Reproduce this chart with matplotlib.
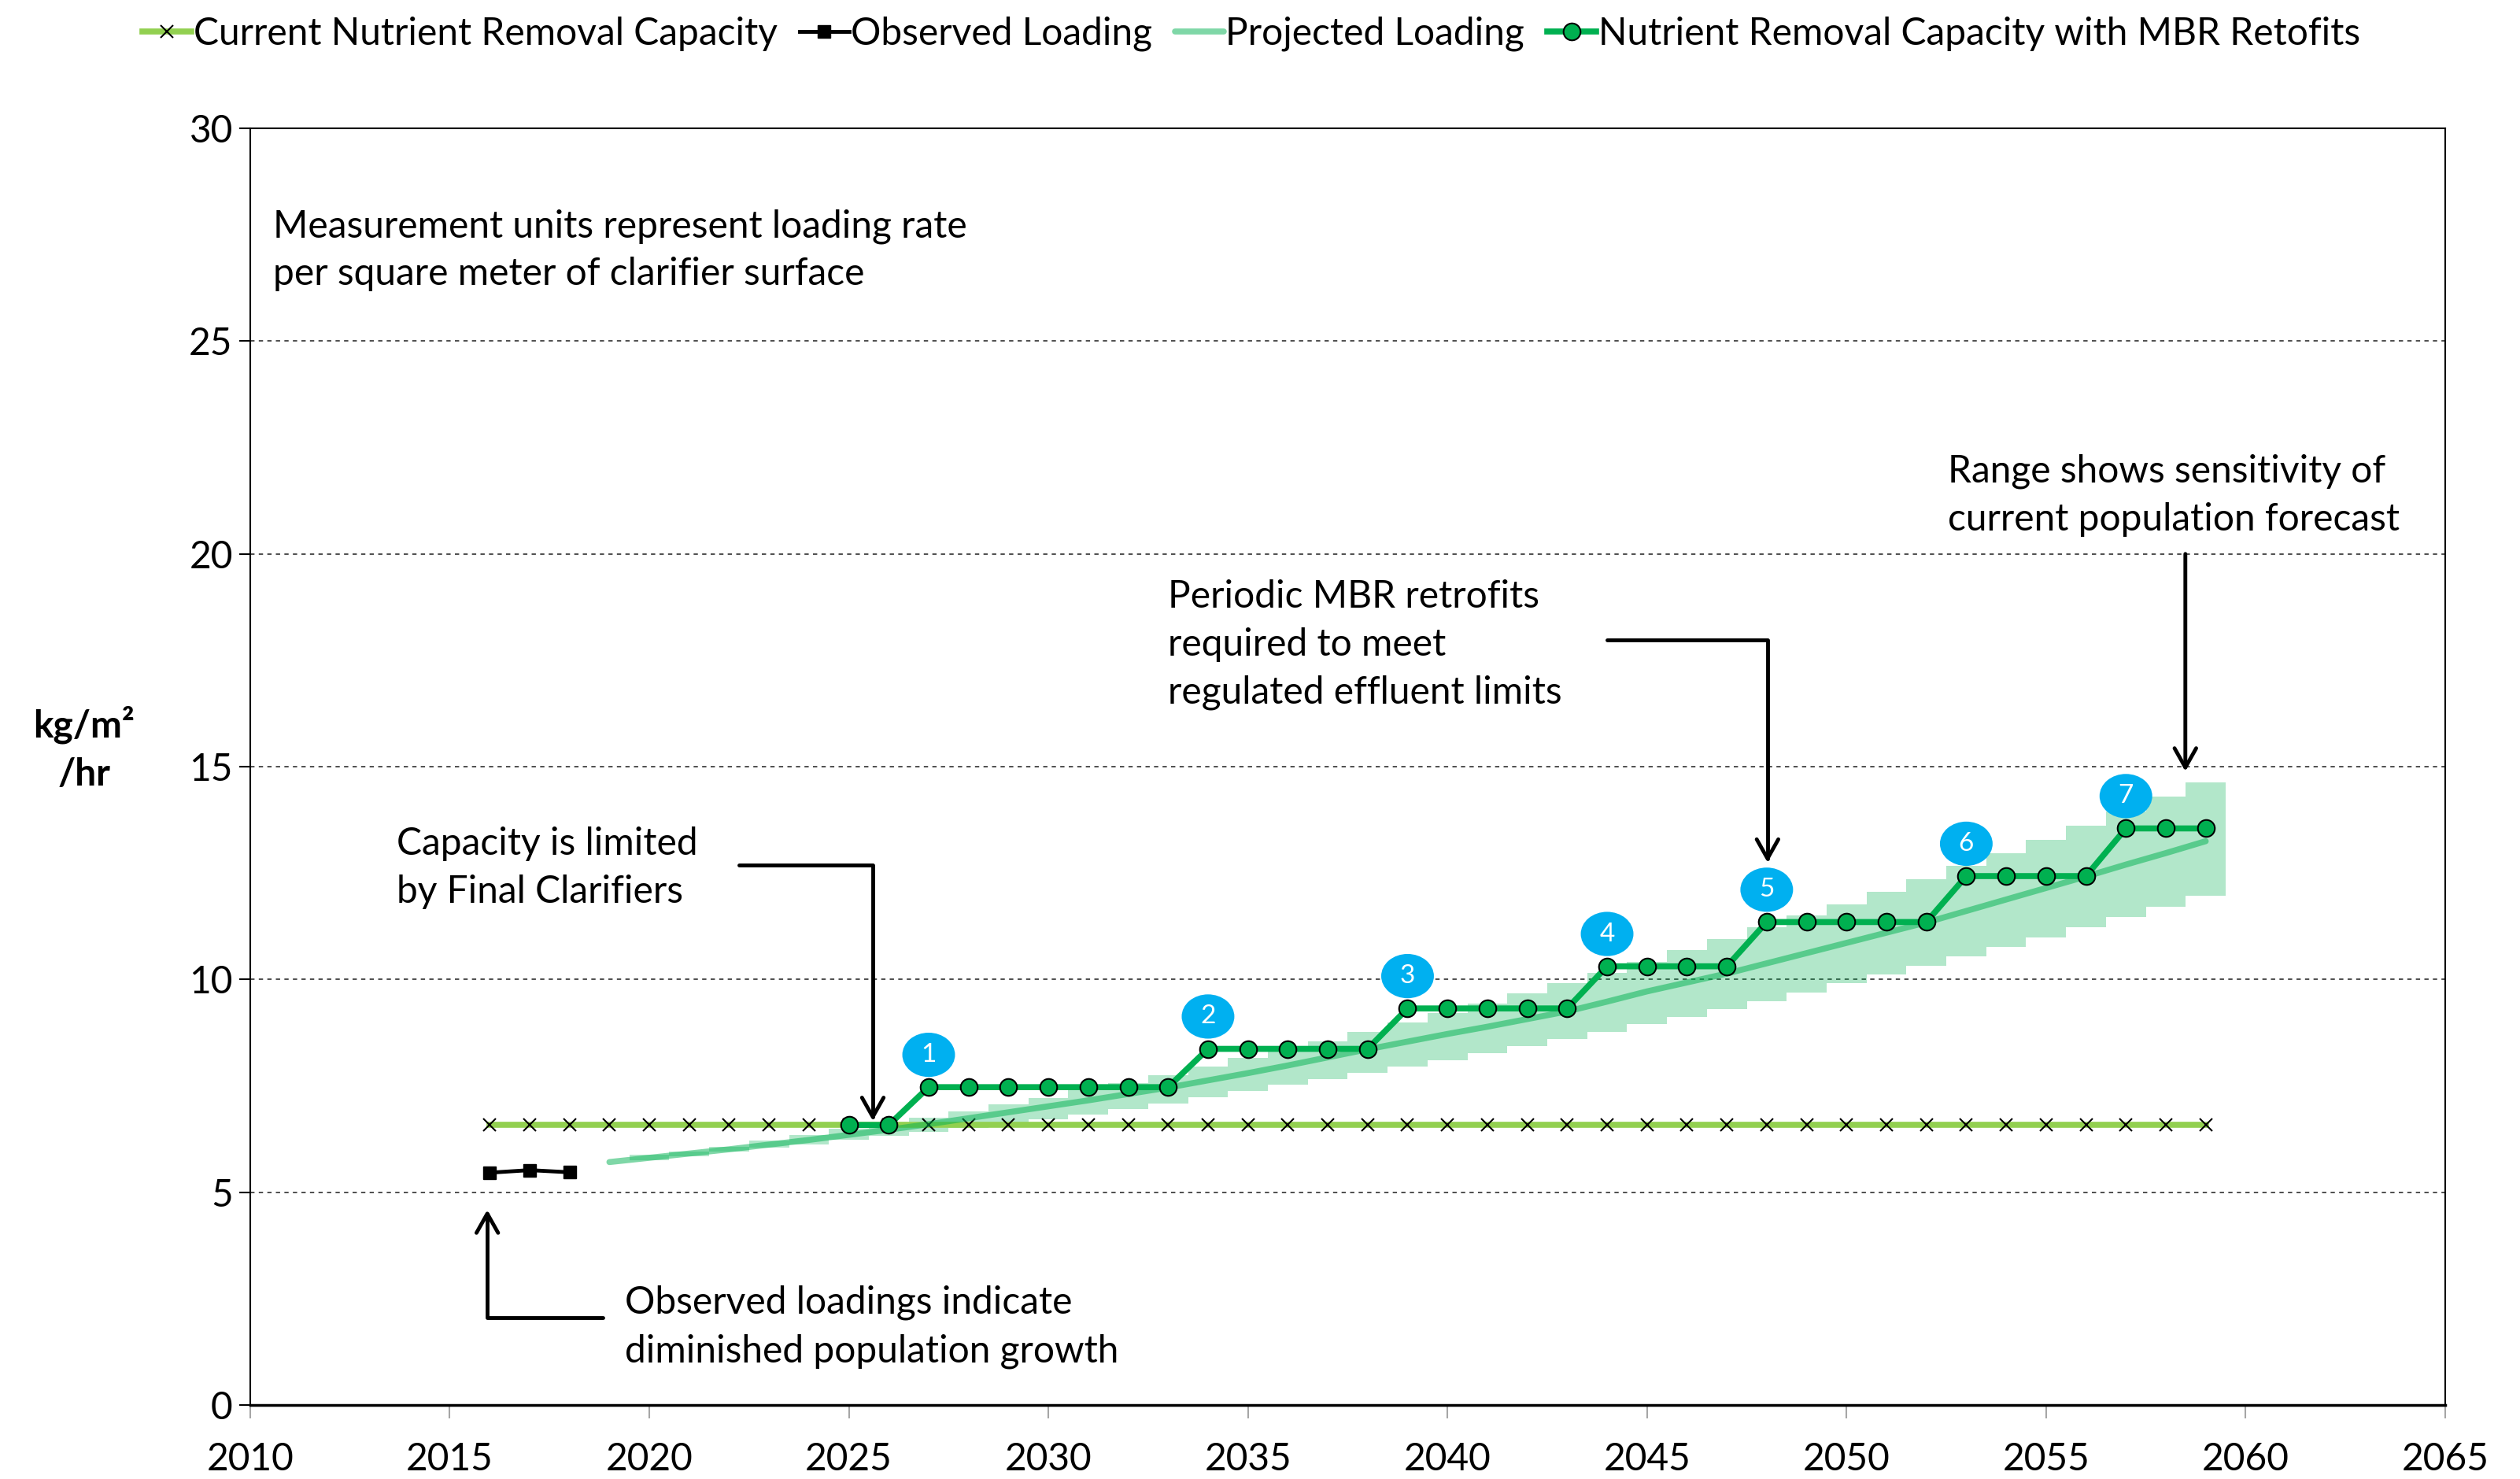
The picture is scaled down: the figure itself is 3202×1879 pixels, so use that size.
import numpy as np
import matplotlib
matplotlib.use('Agg')
import matplotlib.pyplot as plt
from matplotlib.patches import Ellipse

plt.rcParams['font.family'] = ['Lato', 'DejaVu Sans']

# ---------------- data ----------------
cap_years = list(range(2016, 2060))
cap_value = 6.58
capacity = [cap_value] * len(cap_years)

obs_years = [2016, 2017, 2018]
observed = [5.46, 5.52, 5.47]

proj_years = list(range(2019, 2060))
projected = [5.71, 5.81, 5.91, 6.01, 6.12, 6.23, 6.35, 6.47, 6.60, 6.74,
             6.88, 7.02, 7.16, 7.31, 7.46, 7.63, 7.80, 7.98, 8.17, 8.36,
             8.54, 8.72, 8.89, 9.07, 9.25, 9.48, 9.72, 9.93, 10.14, 10.38,
             10.62, 10.86, 11.10, 11.34, 11.61, 11.88, 12.15, 12.42, 12.70, 12.97,
             13.25]

# sensitivity range of the forecast (low / high per year)
band_years = list(range(2020, 2060))
band_low = [5.76, 5.85, 5.95, 6.04, 6.13, 6.23, 6.32, 6.41, 6.51, 6.61,
            6.71, 6.82, 6.95, 7.09, 7.23, 7.38, 7.52, 7.66, 7.81, 7.95,
            8.11, 8.27, 8.43, 8.61, 8.77, 8.96, 9.12, 9.31, 9.49, 9.70,
            9.91, 10.11, 10.33, 10.54, 10.77, 10.99, 11.23, 11.47, 11.71, 11.96]
band_high = [5.89, 5.95, 6.07, 6.21, 6.35, 6.49, 6.63, 6.76, 6.90, 7.06,
             7.21, 7.40, 7.57, 7.76, 7.95, 8.15, 8.35, 8.55, 8.77, 8.99,
             9.22, 9.44, 9.67, 9.91, 10.16, 10.42, 10.70, 10.95, 11.22, 11.50,
             11.77, 12.06, 12.35, 12.67, 12.97, 13.29, 13.61, 13.95, 14.30, 14.64]

mbr_years = list(range(2025, 2060))
mbr = [6.58, 6.58,
       7.47, 7.47, 7.47, 7.47, 7.47, 7.47, 7.47,
       8.37, 8.37, 8.37, 8.37, 8.37,
       9.32, 9.32, 9.32, 9.32, 9.32,
       10.31, 10.31, 10.31, 10.31,
       11.35, 11.35, 11.35, 11.35, 11.35,
       12.43, 12.43, 12.43, 12.43,
       13.55, 13.55, 13.55]

badge_years = [2027, 2034, 2039, 2044, 2048, 2053, 2057]
badge_labels = ['1', '2', '3', '4', '5', '6', '7']

FS = 34.5
LS = 1.47

fig = plt.figure(figsize=(32.02, 18.79), dpi=100)
ax = fig.add_axes([0.0993, 0.05, 0.871, 0.8632])

# range band (columns)
ax.bar(band_years, np.array(band_high) - np.array(band_low), bottom=band_low,
       width=1.0, color='#00B050', alpha=0.3, linewidth=0, zorder=2)

ax.plot(cap_years, capacity, color='#92D050', lw=5.5, marker='x', ms=11,
        mec='black', mew=1.5, label='Current Nutrient Removal Capacity', zorder=3)
ax.plot(obs_years, observed, color='black', lw=3.5, marker='s', ms=12,
        label='Observed Loading', zorder=4)
ax.plot(proj_years, projected, color='#00B050', alpha=0.5, lw=5.5,
        solid_capstyle='round', label='Projected Loading', zorder=4)
ax.plot(mbr_years, mbr, color='#00B050', lw=5.5, marker='o', ms=15.5,
        mec='black', mew=1.5, label='Nutrient Removal Capacity with MBR Retofits', zorder=5)

# numbered retrofit badges
for yr, num in zip(badge_years, badge_labels):
    yv = mbr[mbr_years.index(yr)] + 0.76
    ax.add_patch(Ellipse((yr, yv), 1.32, 1.04, facecolor='#00B0F0', lw=0, zorder=6))
    ax.text(yr, yv, num, color='white', ha='center', va='center', fontsize=24, zorder=7)

# axes
ax.set_xlim(2010, 2065)
ax.set_ylim(0, 30)
ax.set_xticks(range(2010, 2066, 5))
ax.set_yticks(range(0, 31, 5))
ax.yaxis.grid(True, linestyle=(0, (3, 3)), color='#404040', lw=1.3)
ax.set_axisbelow(True)
ax.tick_params(axis='y', direction='out', length=10, width=1.5, pad=6, labelsize=FS)
ax.tick_params(axis='x', direction='out', length=12, width=1.5, color='#A6A6A6',
               pad=22, labelsize=FS)
for s in ax.spines.values():
    s.set_color('black')
    s.set_linewidth(1.5)
ax.spines['bottom'].set_linewidth(2.5)

fig.text(107 / 3202, 1 - 951 / 1879, 'kg/m²\n/hr', ha='center', va='center',
         fontsize=FS, fontweight='bold', linespacing=LS)

# notes
ax.text(2010.57, 27.14, 'Measurement units represent loading rate\nper square meter of clarifier surface',
        fontsize=FS, va='center', ha='left', linespacing=LS)
ax.text(2013.67, 12.62, 'Capacity is limited\nby Final Clarifiers',
        fontsize=FS, va='center', ha='left', linespacing=LS)
ax.text(2033.0, 17.87, 'Periodic MBR retrofits\nrequired to meet\nregulated effluent limits',
        fontsize=FS, va='center', ha='left', linespacing=LS)
ax.text(2052.54, 21.37, 'Range shows sensitivity of\ncurrent population forecast',
        fontsize=FS, va='center', ha='left', linespacing=LS)
ax.text(2019.39, 1.84, 'Observed loadings indicate\ndiminished population growth',
        fontsize=FS, va='center', ha='left', linespacing=LS)

arrow_kw = dict(arrowstyle='->,head_length=0.8,head_width=0.45', lw=3.5, color='black',
                shrinkA=0, shrinkB=0, mutation_scale=22)
elbow = 'angle,angleA=0,angleB=90,rad=0'
ax.annotate('', xy=(2025.6, 6.68), xytext=(2022.25, 12.69),
            arrowprops=dict(connectionstyle=elbow, **arrow_kw), zorder=8)
ax.annotate('', xy=(2048.02, 12.75), xytext=(2044.0, 17.98),
            arrowprops=dict(connectionstyle=elbow, **arrow_kw), zorder=8)
ax.annotate('', xy=(2058.49, 14.89), xytext=(2058.49, 20.0),
            arrowprops=dict(**arrow_kw), zorder=8)
ax.annotate('', xy=(2015.94, 4.59), xytext=(2018.83, 2.05),
            arrowprops=dict(connectionstyle=elbow, **arrow_kw), zorder=8)

fig.legend(loc='center', bbox_to_anchor=(0.4965, 0.977), ncol=4, frameon=False,
           fontsize=FS, handlelength=1.3, handletextpad=0.05, columnspacing=0.6,
           numpoints=1)

fig.savefig('out.png', dpi=100)
